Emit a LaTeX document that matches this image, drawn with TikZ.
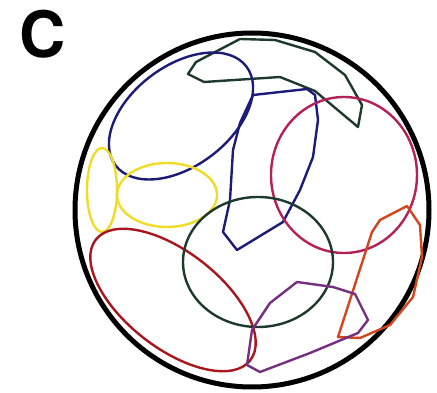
\documentclass[tikz,border=0pt]{standalone}
\usepackage{fontspec}
\setmainfont{TeX Gyre Heros}
\begin{document}
\begin{tikzpicture}[x=1pt,y=-1pt,
  outline/.style={line width=2.4pt, line join=round},
  cellwall/.style={line width=5pt, draw=black}]
\definecolor{navy}{HTML}{1C1C78}
\definecolor{dgreen}{HTML}{1E3A2C}
\definecolor{mag}{HTML}{B3205A}
\definecolor{dred}{HTML}{A8161E}
\definecolor{yel}{HTML}{F0DC28}
\definecolor{ora}{HTML}{D2461E}
\definecolor{purp}{HTML}{74307E}
\useasboundingbox (0,0) rectangle (437,393);
\node[anchor=base west, inner sep=0pt, font=\fontsize{64}{64}\selectfont\bfseries] (lab) at (19,58) {C};
% big cell
\draw[cellwall] (252,210) circle (177pt);
% dark green polygon top
\draw[outline, draw=dgreen] (240,39) -- (196,62) -- (188,74) -- (204,82) -- (280,77) -- (315,91) -- (358,127) -- (362,105) -- (345,75) -- (315,52) -- (275,40) -- cycle;
% blue ellipse
\draw[outline, draw=navy, rotate around={37:(181,116)}] (181,116) ellipse (82pt and 50pt);
% blue polygon
\draw[outline, draw=navy] (253,95) -- (307,89) -- (315,95) -- (318,120) -- (313,157) -- (300,190) -- (283,222) -- (237,250) -- (223,232) -- (230,200) -- (233,150) -- (240,123) -- cycle;
% magenta ellipse
\draw[outline, draw=mag] (344,175) ellipse (73pt and 78pt);
% yellow ellipses
\draw[outline, draw=yel] (102,190) ellipse (15pt and 42pt);
\draw[outline, draw=yel] (167,195) ellipse (50pt and 32pt);
% dark red ellipse
\draw[outline, draw=dred, rotate around={-38:(173,300)}] (173,300) ellipse (98pt and 48pt);
% dark green circle
\draw[outline, draw=dgreen] (258,262) ellipse (75pt and 65pt);
% orange polygon
\draw[outline, draw=ora] (407,206) -- (380,220) -- (372,232) -- (338,337) -- (360,338) -- (390,325) -- (413,297) -- (422,257) -- (420,225) -- cycle;
% purple polygon
\draw[outline, draw=purp] (297,282) -- (333,287) -- (355,294) -- (368,320) -- (358,333) -- (310,353) -- (260,372) -- (247,365) -- (252,330) -- (270,303) -- cycle;
\end{tikzpicture}
\end{document}
